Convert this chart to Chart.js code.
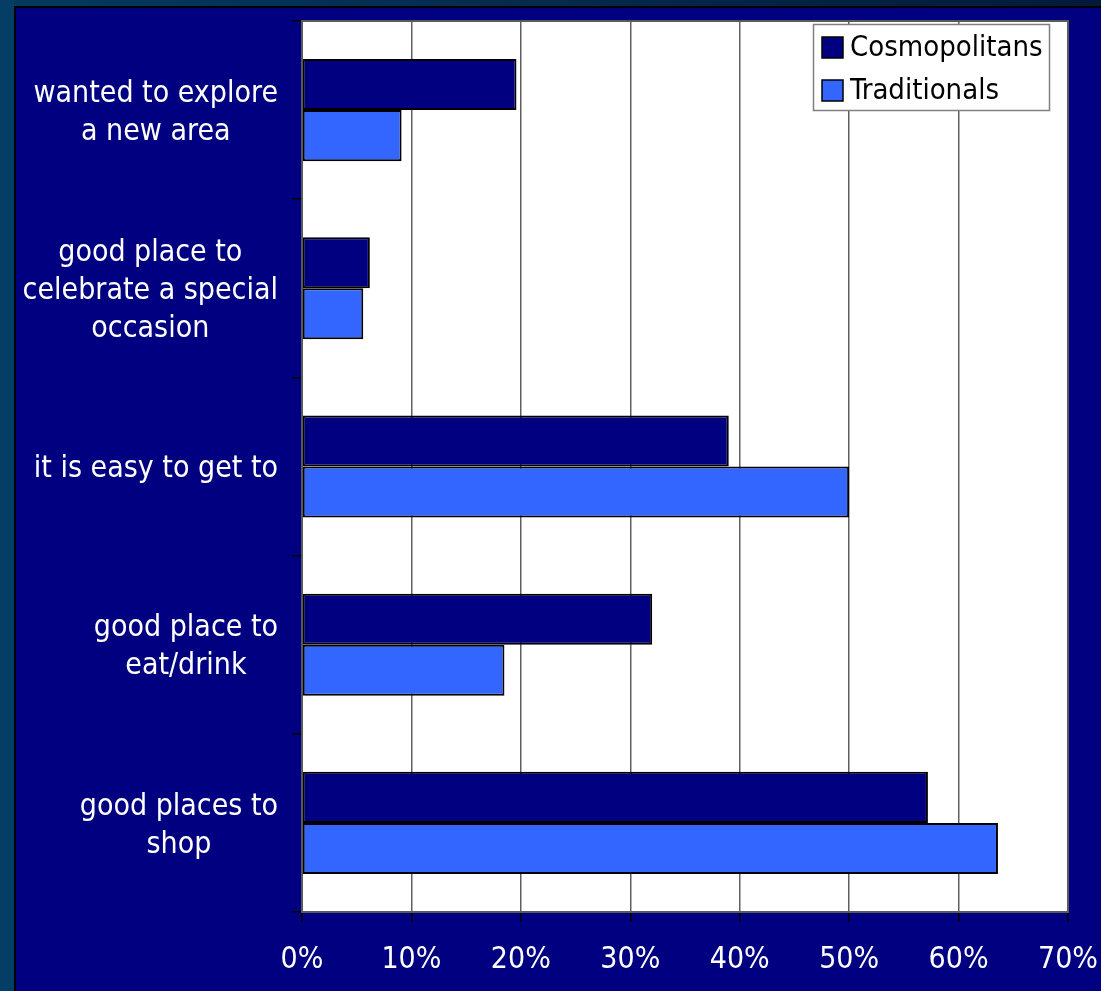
<!DOCTYPE html>
<html>
<head>
<meta charset="utf-8">
<script src="https://cdn.jsdelivr.net/npm/chart.js@4"></script>
<style>
  html, body { margin: 0; padding: 0; background: #043e66; overflow: hidden; }
</style>
</head>
<body>
<canvas id="reasons" width="1101" height="991"></canvas>
<script>
// reasons for visiting, one array of lines per category
const reasons = [
  ['wanted to explore', 'a new area'],
  ['good place to', 'celebrate a special', 'occasion'],
  ['it is easy to get to'],
  ['good place to', 'eat/drink'],
  ['good places to', 'shop']
];
const cosmopolitans = [19.6, 6.2, 39, 32, 57.2];
const traditionals = [9.1, 5.6, 50, 18.5, 63.6];
const percentTicks = [0, 10, 20, 30, 40, 50, 60, 70];

const FONT = '"DejaVu Sans Condensed", Tahoma, "DejaVu Sans", sans-serif';

// slide background + white plot area
const backdrop = {
  id: 'backdrop',
  beforeDraw(chart) {
    const ctx = chart.ctx, a = chart.chartArea;
    const W = chart.width, H = chart.height;
    ctx.save();
    ctx.fillStyle = '#043e66';
    ctx.fillRect(0, 0, W, H);
    const g = ctx.createLinearGradient(0, 0, W, 0);
    g.addColorStop(0, '#053a60');
    g.addColorStop(1, '#021a3a');
    ctx.fillStyle = g;
    ctx.fillRect(14, 0, W, 7);
    ctx.fillStyle = '#000';
    ctx.fillRect(14, 6, W, H);
    ctx.fillStyle = '#000080';
    ctx.fillRect(16, 8, W, H);
    ctx.fillStyle = '#fff';
    ctx.fillRect(a.left, a.top, a.right - a.left, a.bottom - a.top);
    ctx.restore();
  },
  beforeDatasetsDraw(chart) {
    const ctx = chart.ctx, a = chart.chartArea;
    ctx.save();
    ctx.strokeStyle = '#5a5a5a';
    ctx.lineWidth = 2;
    ctx.strokeRect(a.left, a.top, a.right - a.left, a.bottom - a.top);
    ctx.restore();
  }
};

// category names: each block right aligned, lines centred inside it
const categoryLabels = {
  id: 'categoryLabels',
  afterDraw(chart) {
    const ctx = chart.ctx, y = chart.scales.y;
    ctx.save();
    ctx.font = '30px ' + FONT;
    ctx.fillStyle = '#fff';
    ctx.textAlign = 'center';
    ctx.textBaseline = 'middle';
    chart.data.labels.forEach((lines, i) => {
      const yc = y.getPixelForTick(i) + 3;
      const w = Math.max(...lines.map(l => ctx.measureText(l).width));
      const cx = 278 - w / 2;
      lines.forEach((l, j) => {
        ctx.fillText(l, cx, yc + (j - (lines.length - 1) / 2) * 38);
      });
    });
    ctx.restore();
  }
};

// boxed legend in the top right corner of the plot
const boxLegend = {
  id: 'boxLegend',
  afterDraw(chart) {
    const ctx = chart.ctx;
    ctx.save();
    ctx.fillStyle = '#fff';
    ctx.fillRect(813, 24, 236, 86);
    ctx.strokeStyle = '#808080';
    ctx.lineWidth = 1.5;
    ctx.strokeRect(813.5, 24.5, 236, 86);
    ctx.font = '29px ' + FONT;
    ctx.textBaseline = 'middle';
    ctx.textAlign = 'left';
    chart.data.datasets.forEach((ds, i) => {
      const top = 37 + i * 43;
      ctx.fillStyle = ds.backgroundColor;
      ctx.fillRect(822, top, 21, 21);
      ctx.strokeStyle = '#000';
      ctx.lineWidth = 1.5;
      ctx.strokeRect(822, top, 21, 21);
      ctx.fillStyle = '#000';
      ctx.fillText(ds.label, 850, top + 11);
    });
    ctx.restore();
  }
};

new Chart(document.getElementById('reasons').getContext('2d'), {
  type: 'bar',
  data: {
    labels: reasons,
    datasets: [{
      label: 'Cosmopolitans',
      data: cosmopolitans,
      backgroundColor: '#000080',
      borderColor: '#000',
      borderWidth: 2,
      borderSkipped: false
    }, {
      label: 'Traditionals',
      data: traditionals,
      backgroundColor: '#3366ff',
      borderColor: '#000',
      borderWidth: 2,
      borderSkipped: false
    }]
  },
  options: {
    indexAxis: 'y',
    responsive: false,
    animation: false,
    devicePixelRatio: 1,
    layout: { padding: { top: 21, right: 33, left: 0, bottom: 0 } },
    datasets: { bar: { barPercentage: 1, categoryPercentage: 0.573 } },
    scales: {
      x: {
        min: 0,
        max: 70,
        afterBuildTicks: s => { s.ticks = percentTicks.map(v => ({ value: v })); },
        afterFit: s => { s.height = 79; s.paddingLeft = 0; s.paddingRight = 0; },
        border: { display: false },
        grid: { color: '#606060', lineWidth: 1.5, tickLength: 10, tickColor: '#000' },
        ticks: {
          color: '#fff',
          padding: 20,
          maxRotation: 0,
          font: { family: FONT, size: 30 },
          callback: v => v + '%'
        }
      },
      y: {
        afterFit: s => { s.width = 302; s.paddingTop = 0; s.paddingBottom = 0; },
        border: { display: false },
        grid: { drawOnChartArea: false, drawTicks: true, tickLength: 10, color: '#000', lineWidth: 1.5 },
        ticks: { display: false }
      }
    },
    plugins: {
      legend: { display: false },
      tooltip: { enabled: false }
    }
  },
  plugins: [backdrop, categoryLabels, boxLegend]
});
</script>
</body>
</html>
